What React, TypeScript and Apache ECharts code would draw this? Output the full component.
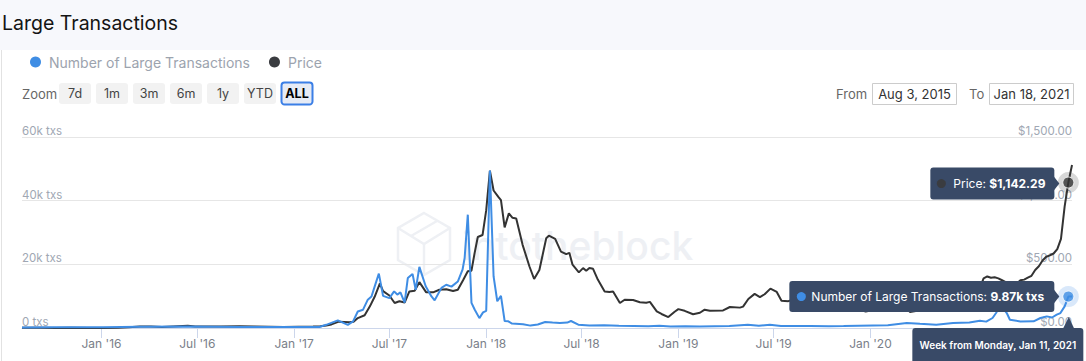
import React, { useEffect, useRef } from "react";
import * as echarts from "echarts";

const TITLE = "Large Transactions";
const SERIES_TX = "Number of Large Transactions";
const SERIES_PRICE = "Price";
const ZOOM_LABEL = "Zoom";
const ZOOM_BUTTONS = ["7d", "1m", "3m", "6m", "1y", "YTD", "ALL"];
const SELECTED_BUTTON = "ALL";
const FROM_LABEL = "From";
const TO_LABEL = "To";
const RANGE_START = "2015-08-03";
const RANGE_END = "2021-01-18";
const HOVER_WEEK = "2021-01-11";
const TX_AXIS = { min: 0, max: 60000, interval: 20000 };
const PRICE_AXIS = { min: 0, max: 1500, interval: 500 };
const X_TICK_DATES = [
  "2016-01-01", "2016-07-01", "2017-01-01", "2017-07-01", "2018-01-01", "2018-07-01",
  "2019-01-01", "2019-07-01", "2020-01-01", "2020-07-01", "2021-01-01",
];

const txData: [string, number][] = [
  ["2015-08-03", 150], ["2015-10-05", 200], ["2016-01-04", 250], ["2016-03-14", 400],
  ["2016-06-13", 500], ["2016-09-19", 350], ["2016-12-12", 300], ["2017-02-18", 300],
  ["2017-03-03", 1000], ["2017-03-25", 2400], ["2017-04-13", 1000], ["2017-04-23", 2070],
  ["2017-05-02", 5200], ["2017-05-12", 5750], ["2017-05-21", 8900], ["2017-05-28", 9900],
  ["2017-06-03", 13000], ["2017-06-11", 17100], ["2017-06-19", 10100], ["2017-07-01", 9400],
  ["2017-07-10", 11500], ["2017-07-16", 10500], ["2017-07-22", 11200], ["2017-07-30", 8000],
  ["2017-08-05", 15700], ["2017-08-14", 17000], ["2017-08-20", 12000], ["2017-08-27", 19200],
  ["2017-09-08", 13100], ["2017-09-19", 9900], ["2017-09-25", 8700], ["2017-10-08", 12600],
  ["2017-10-17", 13600], ["2017-10-27", 13000], ["2017-11-08", 14600], ["2017-11-17", 18300],
  ["2017-11-21", 22000], ["2017-11-27", 35600], ["2017-12-04", 7900], ["2017-12-10", 5800],
  ["2017-12-19", 3100], ["2017-12-26", 4900], ["2018-01-01", 5400], ["2018-01-08", 49500],
  ["2018-01-15", 16200], ["2018-01-22", 8400], ["2018-01-29", 10100], ["2018-02-05", 2200],
  ["2018-02-12", 2100], ["2018-02-19", 1400], ["2018-03-12", 1200], ["2018-03-26", 750],
  ["2018-04-09", 1100], ["2018-04-23", 1900], ["2018-05-07", 1700], ["2018-05-21", 1600],
  ["2018-06-04", 1700], ["2018-06-11", 2200], ["2018-06-25", 1050], ["2018-07-16", 820],
  ["2018-08-13", 900], ["2018-09-10", 700], ["2018-10-08", 650], ["2018-11-05", 550],
  ["2018-11-26", 700], ["2018-12-17", 500], ["2019-01-14", 550], ["2019-02-11", 500],
  ["2019-03-11", 560], ["2019-04-08", 600], ["2019-05-13", 1000], ["2019-06-03", 700],
  ["2019-06-24", 1000], ["2019-07-15", 650], ["2019-08-12", 600], ["2019-09-09", 650],
  ["2019-10-14", 580], ["2019-11-11", 600], ["2019-12-09", 700], ["2020-01-06", 800],
  ["2020-02-03", 900], ["2020-03-10", 1570], ["2020-04-04", 1300], ["2020-05-05", 1040],
  ["2020-06-06", 1570], ["2020-07-07", 1760], ["2020-07-27", 2300], ["2020-08-08", 2000],
  ["2020-08-20", 3140], ["2020-08-27", 4800], ["2020-09-03", 7200], ["2020-09-10", 6000],
  ["2020-09-16", 4700], ["2020-09-22", 2600], ["2020-10-12", 2070], ["2020-11-06", 2100],
  ["2020-11-19", 3140], ["2020-12-01", 3650], ["2020-12-11", 3300], ["2020-12-20", 4180],
  ["2020-12-27", 4700], ["2021-01-04", 6800], ["2021-01-11", 9870], ["2021-01-18", 9900],
];

const priceData: [string, number][] = [
  ["2015-08-03", 2.8], ["2015-08-17", 1.3], ["2015-09-07", 1.2], ["2015-10-05", 0.65],
  ["2015-11-02", 1.0], ["2015-12-07", 0.85], ["2016-01-04", 0.95], ["2016-02-01", 2.3],
  ["2016-02-22", 5.5], ["2016-03-14", 12.5], ["2016-04-04", 11], ["2016-04-25", 8],
  ["2016-05-16", 12], ["2016-06-13", 17], ["2016-06-27", 12], ["2016-07-18", 12],
  ["2016-08-15", 11], ["2016-09-19", 13], ["2016-10-17", 12], ["2016-11-14", 10],
  ["2016-12-12", 8], ["2017-01-09", 10], ["2017-02-06", 11.5], ["2017-02-20", 13],
  ["2017-03-03", 20], ["2017-03-13", 28], ["2017-03-27", 50], ["2017-04-16", 46],
  ["2017-04-24", 50], ["2017-05-02", 78], ["2017-05-15", 100], ["2017-05-25", 170],
  ["2017-06-03", 245], ["2017-06-13", 350], ["2017-06-19", 290], ["2017-07-01", 255],
  ["2017-07-11", 196], ["2017-07-20", 210], ["2017-07-30", 200], ["2017-08-08", 287],
  ["2017-08-18", 293], ["2017-08-27", 360], ["2017-09-09", 280], ["2017-09-22", 280],
  ["2017-10-04", 300], ["2017-10-17", 305], ["2017-10-30", 290], ["2017-11-08", 300],
  ["2017-11-18", 375], ["2017-11-27", 445], ["2017-12-04", 450], ["2017-12-10", 590],
  ["2017-12-16", 715], ["2017-12-25", 730], ["2018-01-01", 925], ["2018-01-08", 1235],
  ["2018-01-15", 1080], ["2018-01-24", 1030], ["2018-01-29", 1005], ["2018-02-05", 790],
  ["2018-02-13", 900], ["2018-02-20", 865], ["2018-02-27", 860], ["2018-03-11", 655],
  ["2018-03-24", 485], ["2018-04-02", 385], ["2018-04-12", 455], ["2018-04-25", 705],
  ["2018-04-30", 725], ["2018-05-12", 700], ["2018-05-23", 600], ["2018-06-02", 580],
  ["2018-06-08", 590], ["2018-06-14", 497], ["2018-06-26", 437], ["2018-07-04", 470],
  ["2018-07-10", 450], ["2018-07-16", 471], ["2018-07-23", 465], ["2018-08-01", 380],
  ["2018-08-14", 287], ["2018-08-23", 283], ["2018-08-30", 286], ["2018-09-12", 196],
  ["2018-09-21", 222], ["2018-10-07", 220], ["2018-10-20", 202], ["2018-11-01", 198],
  ["2018-11-08", 205], ["2018-11-21", 130], ["2018-11-30", 110], ["2018-12-13", 86],
  ["2018-12-25", 128], ["2019-01-01", 148], ["2019-01-13", 135], ["2019-01-29", 108],
  ["2019-02-11", 120], ["2019-02-20", 144], ["2019-03-02", 135], ["2019-03-27", 138],
  ["2019-04-09", 165], ["2019-04-28", 160], ["2019-05-04", 168], ["2019-05-14", 228],
  ["2019-05-26", 268], ["2019-06-05", 243], ["2019-06-14", 265], ["2019-06-25", 309],
  ["2019-07-07", 283], ["2019-07-16", 214], ["2019-07-29", 211], ["2019-08-05", 220],
  ["2019-08-19", 195], ["2019-09-02", 175], ["2019-09-16", 205], ["2019-09-30", 175],
  ["2019-10-14", 180], ["2019-10-28", 182], ["2019-11-11", 185], ["2019-11-25", 150],
  ["2019-12-09", 146], ["2019-12-23", 130], ["2020-01-06", 142], ["2020-01-20", 168],
  ["2020-02-03", 190], ["2020-02-17", 262], ["2020-03-02", 230], ["2020-03-16", 126],
  ["2020-03-30", 135], ["2020-04-13", 160], ["2020-04-27", 200], ["2020-05-11", 195],
  ["2020-05-25", 210], ["2020-06-08", 240], ["2020-06-22", 235], ["2020-07-06", 240],
  ["2020-07-20", 255], ["2020-07-27", 315], ["2020-08-03", 390], ["2020-08-10", 405],
  ["2020-08-17", 395], ["2020-08-24", 398], ["2020-08-31", 390], ["2020-09-07", 375],
  ["2020-09-14", 360], ["2020-09-21", 345], ["2020-09-28", 355], ["2020-10-05", 350],
  ["2020-10-12", 375], ["2020-10-19", 380], ["2020-10-26", 395], ["2020-11-02", 410],
  ["2020-11-09", 455], ["2020-11-16", 485], ["2020-11-23", 530], ["2020-11-30", 560],
  ["2020-12-07", 570], ["2020-12-14", 585], ["2020-12-21", 620], ["2020-12-28", 700],
  ["2021-01-04", 955], ["2021-01-11", 1142.29], ["2021-01-18", 1280],
];

const MONTHS = ["Jan", "Feb", "Mar", "Apr", "May", "Jun", "Jul", "Aug", "Sep", "Oct", "Nov", "Dec"];
const BLUE = "#3f8de4";
const DARK = "#333333";
const FONT = "Inter, 'Noto Sans', sans-serif";
const TIP_BG = "#394a67";

const ts = (d: string) => Date.parse(d + "T00:00:00Z");
const fmtDate = (d: string) => {
  const x = new Date(ts(d));
  return `${MONTHS[x.getUTCMonth()]} ${x.getUTCDate()}, ${x.getUTCFullYear()}`;
};
const fmtPrice = (v: number) =>
  "$" + v.toLocaleString("en-US", { minimumFractionDigits: 2, maximumFractionDigits: 2 });
const fmtTx = (v: number) =>
  v === 0 ? "0 txs" : v >= 1000 ? (v / 1000).toFixed(v % 1000 === 0 ? 0 : 2) + "k txs" : v + " txs";

export default function App() {
  const ref = useRef<HTMLDivElement>(null);
  useEffect(() => {
    if (!ref.current) return;
    const chart = echarts.init(ref.current, undefined, { renderer: "svg" });
    const hoverTx = txData.find((d) => d[0] === HOVER_WEEK)!;
    const hoverPrice = priceData.find((d) => d[0] === HOVER_WEEK)!;
    const tickVals = X_TICK_DATES.map(ts);

    const option: any = {
      animation: false,
      textStyle: { fontFamily: FONT },
      legend: {
        left: 30,
        top: 55,
        padding: 0,
        icon: "circle",
        itemWidth: 11,
        itemHeight: 11,
        itemGap: 19,
        textStyle: { fontSize: 14, color: "#9ca3ae", fontFamily: FONT, padding: [0, 0, 0, 3] },
        data: [
          { name: SERIES_TX, itemStyle: { color: BLUE } },
          { name: SERIES_PRICE, itemStyle: { color: "#3a3c40" } },
        ],
      },
      grid: { left: 22, right: 13, top: 137, bottom: 33, containLabel: false },
      xAxis: {
        type: "value",
        min: ts(RANGE_START),
        max: ts(RANGE_END),
        axisLine: { show: true, onZero: false, lineStyle: { color: "#ccd6eb" } },
        axisTick: {
          show: true,
          length: 10,
          lineStyle: { color: "#ccd6eb" },
          customValues: tickVals,
        },
        axisLabel: {
          customValues: tickVals,
          color: "#7a8089",
          fontSize: 12,
          margin: 9,
          fontFamily: FONT,
          formatter: (v: number) => {
            const d = new Date(v);
            return `${MONTHS[d.getUTCMonth()]} '${String(d.getUTCFullYear()).slice(2)}`;
          },
        },
        splitLine: { show: false },
      },
      yAxis: [
        {
          type: "value",
          position: "left",
          ...TX_AXIS,
          axisLine: { show: false },
          axisTick: { show: false },
          splitLine: { show: true, lineStyle: { color: "#e6e6e6" } },
          axisLabel: {
            inside: true,
            margin: 0,
            verticalAlign: "bottom",
            color: "#a0a7b3",
            fontSize: 11.5,
            fontFamily: FONT,
            formatter: (v: number) => fmtTx(v),
          },
        },
        {
          type: "value",
          position: "right",
          ...PRICE_AXIS,
          axisLine: { show: false },
          axisTick: { show: false },
          splitLine: { show: false },
          axisLabel: {
            inside: true,
            margin: 0,
            verticalAlign: "bottom",
            color: "#a0a7b3",
            fontSize: 11.5,
            fontFamily: FONT,
            formatter: (v: number) => fmtPrice(v),
          },
        },
      ],
      series: [
        {
          type: "line",
          name: SERIES_PRICE,
          yAxisIndex: 1,
          data: priceData.map(([d, v]) => [ts(d), v]),
          showSymbol: false,
          symbol: "none",
          lineStyle: { width: 2, color: DARK },
          itemStyle: { color: "#3a3c40" },
          z: 2,
        },
        {
          type: "line",
          name: SERIES_TX,
          yAxisIndex: 0,
          data: txData.map(([d, v]) => [ts(d), v]),
          showSymbol: false,
          symbol: "none",
          lineStyle: { width: 2, color: BLUE },
          itemStyle: { color: BLUE },
          z: 3,
        },
        {
          type: "scatter",
          yAxisIndex: 1,
          silent: true,
          data: [[ts(hoverPrice[0]), hoverPrice[1]]],
          symbolSize: 21,
          itemStyle: { color: "rgba(60,60,60,0.25)" },
          z: 4,
        },
        {
          type: "scatter",
          yAxisIndex: 1,
          silent: true,
          data: [[ts(hoverPrice[0]), hoverPrice[1]]],
          symbolSize: 11,
          itemStyle: { color: DARK, borderColor: "#fff", borderWidth: 1 },
          z: 5,
        },
        {
          type: "scatter",
          yAxisIndex: 0,
          silent: true,
          data: [[ts(hoverTx[0]), hoverTx[1]]],
          symbolSize: 21,
          itemStyle: { color: "rgba(63,141,228,0.25)" },
          z: 4,
        },
        {
          type: "scatter",
          yAxisIndex: 0,
          silent: true,
          data: [[ts(hoverTx[0]), hoverTx[1]]],
          symbolSize: 11,
          itemStyle: { color: BLUE, borderColor: "#fff", borderWidth: 1 },
          z: 5,
        },
      ],
    };
    chart.setOption(option);

    const [px, py] = chart.convertToPixel({ xAxisIndex: 0, yAxisIndex: 1 }, [ts(hoverPrice[0]), hoverPrice[1]]) as number[];
    const [bx, by] = chart.convertToPixel({ xAxisIndex: 0, yAxisIndex: 0 }, [ts(hoverTx[0]), hoverTx[1]]) as number[];
    const [, y0] = chart.convertToPixel({ xAxisIndex: 0, yAxisIndex: 0 }, [ts(hoverTx[0]), 0]) as number[];

    const g: any[] = [];
    g.push({ type: "rect", shape: { x: 0, y: 0, width: 1086, height: 50 }, style: { fill: "#f7f8fc" }, z: -10 });
    g.push({ type: "text", x: 2, y: 22.5, style: { text: TITLE, fontSize: 19.5, fill: "#141414", fontFamily: FONT, verticalAlign: "middle" } });
    g.push({ type: "line", shape: { x1: 1.5, y1: 50, x2: 1.5, y2: 361 }, style: { stroke: "#e2e2e2", lineWidth: 1 } });

    const wm = "#eef0f4";
    g.push({ type: "polygon", shape: { points: [[424, 213], [450, 228], [450, 260], [424, 275], [398, 260], [398, 228]] }, style: { fill: "none", stroke: wm, lineWidth: 2.5 }, z: -5 });
    g.push({ type: "polyline", shape: { points: [[398, 228], [424, 244], [450, 228]] }, style: { fill: "none", stroke: wm, lineWidth: 2.5 }, z: -5 });
    g.push({ type: "polyline", shape: { points: [[424, 244], [424, 275]] }, style: { fill: "none", stroke: wm, lineWidth: 2.5 }, z: -5 });
    g.push({ type: "polyline", shape: { points: [[411, 236], [437, 221]] }, style: { fill: "none", stroke: wm, lineWidth: 2.5 }, z: -5 });
    g.push({ type: "text", x: 462, y: 245, style: { text: "intotheblock", fontSize: 39, fill: wm, fontFamily: FONT, fontWeight: 500, verticalAlign: "middle" }, z: -5 });

    g.push({ type: "text", x: 22, y: 93.5, style: { text: ZOOM_LABEL, fontSize: 13, fill: "#666", fontFamily: FONT, verticalAlign: "middle" } });
    ZOOM_BUTTONS.forEach((b, i) => {
      const x = 59 + i * 37;
      const sel = b === SELECTED_BUTTON;
      g.push({
        type: "rect",
        shape: { x: sel ? x + 0.5 : x, y: sel ? 82.5 : 83, width: sel ? 31 : 32, height: sel ? 22 : 21, r: 3 },
        style: sel ? { fill: "#e6ebf5", stroke: "#3b7fe6", lineWidth: 2 } : { fill: "#f2f2f2" },
      });
      g.push({
        type: "text",
        x: x + 16,
        y: 93.5,
        style: { text: b, fontSize: 12.5, fill: sel ? "#000" : "#444", fontWeight: sel ? "bold" : "normal", fontFamily: FONT, align: "center", verticalAlign: "middle" },
      });
    });

    g.push({ type: "text", x: 836, y: 93.5, style: { text: FROM_LABEL, fontSize: 13, fill: "#666", fontFamily: FONT, verticalAlign: "middle" } });
    g.push({ type: "rect", shape: { x: 872.5, y: 83.5, width: 84, height: 21 }, style: { fill: "#fff", stroke: "#cccccc", lineWidth: 1 } });
    g.push({ type: "text", x: 914.5, y: 94, style: { text: fmtDate(RANGE_START), fontSize: 13, fill: "#333", fontFamily: FONT, align: "center", verticalAlign: "middle" } });
    g.push({ type: "text", x: 969, y: 93.5, style: { text: TO_LABEL, fontSize: 13, fill: "#666", fontFamily: FONT, verticalAlign: "middle" } });
    g.push({ type: "rect", shape: { x: 989.5, y: 83.5, width: 84, height: 21 }, style: { fill: "#fff", stroke: "#cccccc", lineWidth: 1 } });
    g.push({ type: "text", x: 1031.5, y: 94, style: { text: fmtDate(RANGE_END), fontSize: 13, fill: "#333", fontFamily: FONT, align: "center", verticalAlign: "middle" } });

    const rich = {
      a: { fontSize: 12, fill: "#ffffff", color: "#ffffff", fontFamily: FONT },
      b: { fontSize: 12, fill: "#ffffff", color: "#ffffff", fontWeight: "bold", fontFamily: FONT },
    };

    g.push({ type: "rect", shape: { x: px - 138, y: py - 15, width: 124, height: 32, r: 3 }, style: { fill: TIP_BG }, z: 100 });
    g.push({ type: "polygon", shape: { points: [[px - 14.5, py - 6], [px - 9, py + 1], [px - 14.5, py + 8]] }, style: { fill: TIP_BG }, z: 100 });
    g.push({ type: "circle", shape: { cx: px - 127, cy: py + 1, r: 4.5 }, style: { fill: "#3a3c40" }, z: 101 });
    g.push({
      type: "text", x: px - 115, y: py + 1, z: 101,
      style: { text: `{a|${SERIES_PRICE}: }{b|${fmtPrice(hoverPrice[1])}}`, verticalAlign: "middle", rich },
    });

    g.push({ type: "rect", shape: { x: bx - 279, y: by - 15.5, width: 265, height: 31, r: 3 }, style: { fill: TIP_BG }, z: 100 });
    g.push({ type: "polygon", shape: { points: [[bx - 14.5, by - 7], [bx - 9, by], [bx - 14.5, by + 7]] }, style: { fill: TIP_BG }, z: 100 });
    g.push({ type: "circle", shape: { cx: bx - 267, cy: by, r: 4.5 }, style: { fill: BLUE }, z: 101 });
    g.push({
      type: "text", x: bx - 257, y: by, z: 101,
      style: { text: `{a|${SERIES_TX}: }{b|${fmtTx(hoverTx[1])}}`, verticalAlign: "middle", rich },
    });

    g.push({ type: "rect", shape: { x: bx - 156, y: y0, width: 171, height: 40, r: 3 }, style: { fill: TIP_BG }, z: 100 });
    g.push({ type: "polygon", shape: { points: [[bx - 5.5, y0 + 1], [bx + 0.5, y0 - 11], [bx + 6, y0 + 1]] }, style: { fill: TIP_BG }, z: 100 });
    g.push({
      type: "text", x: bx - 70.5, y: y0 + 16.5, z: 101,
      style: { text: `Week from Monday, ${fmtDate(HOVER_WEEK)}`, fontSize: 10, fill: "#ffffff", fontWeight: 600, fontFamily: FONT, align: "center", verticalAlign: "middle" },
    });

    chart.setOption({ graphic: g });
    return () => chart.dispose();
  }, []);

  return (
    <div
      ref={ref}
      style={{ position: "fixed", left: 0, top: 0, width: 1086, height: 361, background: "#ffffff" }}
    />
  );
}
